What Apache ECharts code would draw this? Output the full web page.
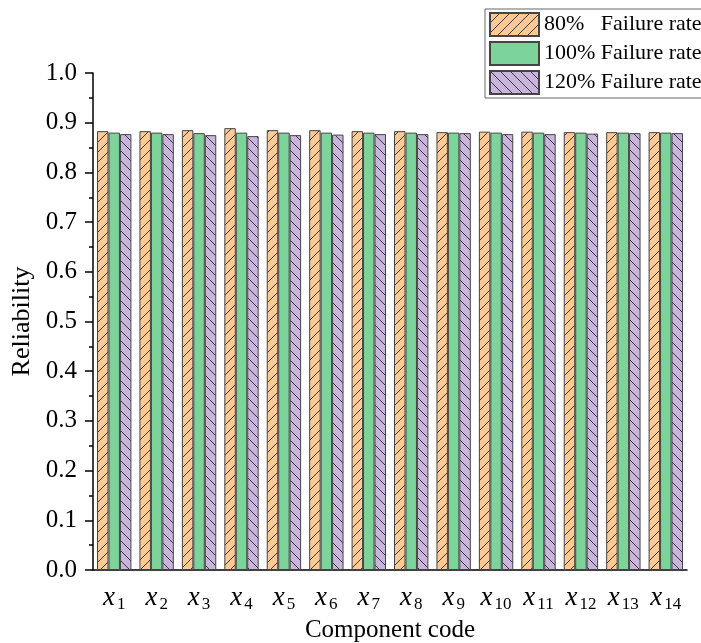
<!DOCTYPE html>
<html>
<head>
<meta charset="utf-8">
<script src="https://cdn.jsdelivr.net/npm/echarts@6/dist/echarts.min.js"></script>
<style>
  html, body { margin: 0; padding: 0; background: #fff; }
  #chart { width: 701px; height: 643px; }
</style>
</head>
<body>
<div id="chart"></div>
<script>
// Reliability of each component under three failure-rate scenarios.
const categories = ['1', '2', '3', '4', '5', '6', '7', '8', '9', '10', '11', '12', '13', '14'];
const rate80  = [0.883, 0.883, 0.885, 0.889, 0.885, 0.885, 0.883, 0.883, 0.881, 0.882, 0.882, 0.881, 0.881, 0.881];
const rate100 = [0.880, 0.880, 0.879, 0.880, 0.880, 0.880, 0.880, 0.880, 0.880, 0.880, 0.880, 0.880, 0.880, 0.880];
const rate120 = [0.877, 0.877, 0.875, 0.873, 0.875, 0.876, 0.877, 0.877, 0.879, 0.877, 0.877, 0.878, 0.879, 0.879];
const seriesNames = ['80%   Failure rate', '100% Failure rate', '120% Failure rate'];

const SERIF = '"Liberation Serif", "Times New Roman", serif';
const EDGE = '#444';

// hatch tiles drawn once into small canvases, used as repeat patterns
function hatch(bg, dir) {
  const s = 10;
  const cv = document.createElement('canvas');
  cv.width = s; cv.height = s;
  const g = cv.getContext('2d');
  g.fillStyle = bg;
  g.fillRect(0, 0, s, s);
  if (dir) {
    g.strokeStyle = '#2a2a2a';
    g.lineWidth = 0.9;
    g.beginPath();
    if (dir === '/') {
      g.moveTo(-1, s + 1); g.lineTo(s + 1, -1);
      g.moveTo(-1, 1); g.lineTo(1, -1);
      g.moveTo(s - 1, s + 1); g.lineTo(s + 1, s - 1);
    } else {
      g.moveTo(-1, -1); g.lineTo(s + 1, s + 1);
      g.moveTo(-1, s - 1); g.lineTo(1, s + 1);
      g.moveTo(s - 1, -1); g.lineTo(s + 1, 1);
    }
    g.stroke();
  }
  return { image: cv, repeat: 'repeat' };
}

const fills = [hatch('#FFC994', '/'), hatch('#7DD49B', null), hatch('#C9B5DB', '\\')];
const data = [rate80, rate100, rate120];

const chart = echarts.init(document.getElementById('chart'));
chart.setOption({
  animation: false,
  textStyle: { fontFamily: SERIF, color: '#000' },
  grid: { left: 93, right: 14, top: 73, bottom: 73, outerBoundsMode: 'none' },
  legend: {
    orient: 'vertical',
    left: 485, top: 9,
    padding: [3, 6, 3, 4],
    icon: 'rect',
    itemWidth: 49, itemHeight: 23, itemGap: 4,
    borderColor: '#666', borderWidth: 1,
    textStyle: { fontFamily: SERIF, fontSize: 22, color: '#000' },
    data: seriesNames,
  },
  xAxis: [{
    type: 'category',
    data: categories,
    name: 'Component code',
    nameLocation: 'middle',
    nameGap: 46,
    nameTextStyle: { fontFamily: SERIF, fontSize: 25, color: '#000', verticalAlign: 'top' },
    axisLine: { lineStyle: { color: '#000', width: 1.5 } },
    axisTick: { alignWithLabel: true, length: 8, lineStyle: { color: '#000', width: 1.5 } },
    axisLabel: {
      interval: 0, margin: 13,
      formatter: v => `{x|x}{s|${v}}`,
      rich: {
        x: { fontFamily: SERIF, fontStyle: 'italic', fontSize: 27, color: '#000' },
        s: { fontFamily: SERIF, fontSize: 17, color: '#000', padding: [13, 0, 0, 2] },
      },
    },
  }, {
    // second axis only carries the short ticks on the category boundaries
    type: 'category',
    data: categories,
    position: 'bottom',
    axisLine: { show: false },
    axisTick: { length: 4, lineStyle: { color: '#000', width: 1.5 } },
    axisLabel: { show: false },
  }],
  yAxis: {
    type: 'value',
    min: 0, max: 1, interval: 0.1,
    name: 'Reliability',
    nameLocation: 'middle',
    nameGap: 51,
    nameTextStyle: { fontFamily: SERIF, fontSize: 26, color: '#000' },
    axisLine: { show: true, lineStyle: { color: '#000', width: 1.5 } },
    axisTick: { show: true, length: 8, lineStyle: { color: '#000', width: 1.5 } },
    minorTick: { show: true, splitNumber: 2, length: 4, lineStyle: { color: '#000', width: 1.5 } },
    splitLine: { show: false },
    axisLabel: { fontFamily: SERIF, fontSize: 25, color: '#000', margin: 16, formatter: v => v.toFixed(1) },
  },
  series: seriesNames.map((name, i) => ({
    name,
    type: 'bar',
    data: data[i],
    barGap: '0%',
    barCategoryGap: '19%',
    itemStyle: { color: fills[i], borderColor: EDGE, borderWidth: 1 },
  })),
});
</script>
</body>
</html>
